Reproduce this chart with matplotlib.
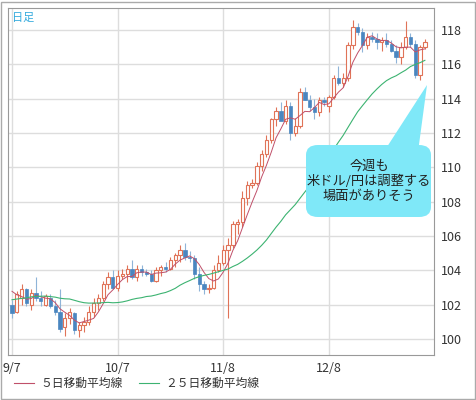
import matplotlib
matplotlib.use("Agg")
import matplotlib.pyplot as plt
from matplotlib.patches import FancyBboxPatch, Polygon, Rectangle
import numpy as np
import pandas as pd

plt.rcParams['font.family'] = ['Noto Sans CJK JP', 'DejaVu Sans']

history = [101.6,101.9,101.4,101.2,101.7,102.0,102.3,102.6,102.4,102.2,102.0,101.9,
           102.4,102.8,102.5,102.2,102.0,102.3,102.7,103.2,103.6,103.4,102.9,102.5]

ohlc = [
 (102.0,102.3,101.2,101.5),(101.6,102.8,101.5,102.6),(102.4,103.2,102.0,102.9),(102.9,103.0,101.9,102.1),
 (102.0,102.9,101.7,102.7),(102.7,103.6,102.2,102.4),(102.4,102.8,101.9,102.2),(102.0,102.6,101.9,102.5),
 (102.4,102.6,101.8,101.9),(101.9,102.3,101.4,101.6),(101.6,102.9,100.4,100.6),(100.7,101.5,100.2,101.2),
 (101.2,101.8,100.9,101.6),(101.5,101.6,100.3,100.5),(100.5,101.0,100.1,100.8),(100.8,101.3,100.4,101.0),
 (101.0,101.9,100.8,101.6),(101.6,102.4,101.3,102.1),(102.1,102.6,101.7,102.4),(102.4,103.4,102.2,103.2),
 (103.2,103.9,102.9,103.6),(103.6,104.0,102.9,103.0),
 (103.0,104.0,102.8,103.7),(103.7,104.1,103.5,103.8),(103.8,104.3,103.3,104.1),(104.1,104.6,103.5,103.6),
 (103.6,104.3,103.4,104.1),(104.1,104.3,103.7,103.9),(103.9,104.1,103.7,103.8),(103.8,104.0,103.3,103.4),
 (103.4,104.2,103.3,104.0),(104.0,104.3,103.7,104.2),(104.2,104.5,103.9,104.1),(104.1,104.8,104.0,104.6),
 (104.6,105.0,104.2,104.9),(104.9,105.5,104.5,105.2),(105.2,105.6,104.6,104.8),(104.8,105.1,104.5,104.7),
 (104.7,104.9,103.5,103.8),(103.8,104.2,102.8,103.2),(103.2,103.4,102.6,102.9),(102.9,103.2,102.7,103.0),
 (103.0,104.3,102.9,104.0),(104.0,104.9,103.9,104.4),
 (104.4,105.5,104.3,105.2),(105.2,105.9,101.2,105.5),(105.5,106.9,105.3,106.7),(106.7,107.0,106.1,106.8),
 (106.8,108.6,106.5,108.2),(108.2,109.2,107.8,109.0),(109.0,109.3,108.8,109.1),(109.1,110.3,109.0,110.1),
 (110.1,111.0,109.8,110.8),(110.8,111.9,110.6,111.6),(111.6,112.9,111.4,112.8),(112.8,113.5,112.4,113.3),
 (113.3,113.8,112.8,112.7),(112.7,113.9,112.5,113.6),(113.6,113.8,111.6,112.0),(112.0,112.9,111.8,112.4),
 (112.4,114.6,112.3,114.4),(114.4,114.7,113.9,113.9),(113.9,114.2,113.3,113.5),(113.5,114.0,112.8,113.2),
 (113.2,114.1,113.0,113.9),(113.9,114.1,113.6,113.8),
 (113.6,114.2,113.2,114.1),(114.1,115.4,114.0,115.2),(115.2,115.9,114.8,114.9),(114.9,115.5,114.7,115.2),
 (115.2,117.3,115.0,117.1),(117.1,118.6,116.9,118.2),(118.2,118.4,117.7,117.9),(117.9,118.1,116.7,117.1),
 (117.1,117.8,116.9,117.6),(117.6,117.9,117.3,117.5),(117.5,117.8,116.9,117.3),(117.3,117.6,116.8,117.4),
 (117.4,117.8,117.0,117.2),(117.2,117.4,116.7,116.8),(116.8,117.1,116.1,116.4),(116.4,117.3,116.0,117.0),
 (117.0,118.5,116.9,117.6),(117.6,117.8,117.0,117.2),(117.2,117.4,115.2,115.4),(115.4,117.1,115.1,117.0),
 (117.0,117.5,116.9,117.3),
]
tick_pos = [0, 22, 44, 66]
tick_labels = ["9/7", "10/7", "11/8", "12/8"]
yticks = [100, 102, 104, 106, 108, 110, 112, 114, 116, 118]

W, H = 477, 400
fig = plt.figure(figsize=(W/100, H/100), dpi=100)
fig.patches.append(Rectangle((1/W, 1/H), 1-3/W, 1-3/H, transform=fig.transFigure,
                             fill=False, edgecolor="#aaaaaa", lw=1))
ax = fig.add_axes([8/W, 1-355/H, (434-8)/W, (355-8)/H])
n = len(ohlc)
x = np.arange(n)
up_c, dn_c = "#e07358", "#4a86c0"
for i, (o, h, l, c) in enumerate(ohlc):
    if c >= o:
        ax.vlines(i, max(o, c), h, color=up_c, lw=0.8, zorder=3)
        ax.vlines(i, l, min(o, c), color=up_c, lw=0.8, zorder=3)
        ax.add_patch(Rectangle((i-0.35, o), 0.7, max(c-o, 0.05), facecolor="white",
                               edgecolor=up_c, lw=0.8, zorder=4))
    else:
        ax.vlines(i, l, h, color="#8fb4d8", lw=0.8, zorder=3)
        ax.add_patch(Rectangle((i-0.35, c), 0.7, o-c, facecolor=dn_c,
                               edgecolor=dn_c, lw=0.5, zorder=4))
closes = pd.Series(history + [r[3] for r in ohlc])
ma5 = closes.rolling(5).mean().values[len(history):]
ma25 = closes.rolling(25).mean().values[len(history):]
ax.plot(x, ma5, color="#c0506a", lw=0.7, zorder=5)
ax.plot(x, ma25, color="#3cb371", lw=0.8, zorder=5)

ax.set_xlim(-0.83, 87.9)
ax.set_ylim(99.07, 119.28)
ax.set_xticks(tick_pos)
ax.set_xticklabels(tick_labels, fontsize=9, color="#333333")
ax.set_yticks(yticks)
ax.set_yticklabels([str(v) for v in yticks], fontsize=9, color="#333333")
ax.yaxis.tick_right()
ax.tick_params(length=0, pad=5)
ax.grid(True, color="#dddddd", lw=1)
ax.set_axisbelow(True)
for s in ax.spines.values():
    s.set_color("#999999")
ax.text(0.01, 0.985, "日足", transform=ax.transAxes, fontsize=8, color="#33aadd", va="top")

# callout
fig.patches.append(FancyBboxPatch((306/W, 1-217/H), 125/W, 72/H,
                   boxstyle="round,pad=0,rounding_size=0.025", transform=fig.transFigure,
                   facecolor="#7fe8f8", edgecolor="none"))
fig.patches.append(Polygon([(385/W, 1-150/H), (427/W, 1-85/H), (418/W, 1-152/H)], closed=True,
                   transform=fig.transFigure, facecolor="#7fe8f8", edgecolor="none"))
fig.text(369/W, 1-181/H, "今週も\n米ドル/円は調整する\n場面がありそう", ha="center", va="center",
         fontsize=9.5, color="#222222", linespacing=1.2)

# legend
fig.add_artist(plt.Line2D([14/W, 34/W], [1-383/H]*2, color="#c0506a", lw=0.8))
fig.text(40/W, 1-383/H, "５日移動平均線", fontsize=8.5, va="center", color="#333333")
fig.add_artist(plt.Line2D([139/W, 159/W], [1-383/H]*2, color="#3cb371", lw=0.8))
fig.text(165/W, 1-383/H, "２５日移動平均線", fontsize=8.5, va="center", color="#333333")

fig.savefig("out.png", dpi=100)
